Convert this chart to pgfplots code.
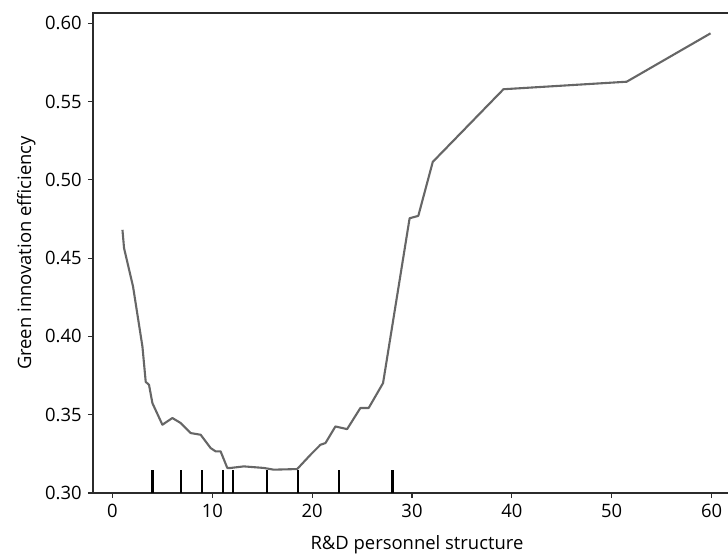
\documentclass[border=0pt]{standalone}
\usepackage{fontspec}
\setmainfont{Open Sans}
\usepackage{pgfplots}
\pgfplotsset{compat=1.18}
\definecolor{pdpline}{HTML}{666666}
\definecolor{spine}{HTML}{2B2B2B}
\begin{document}
\fontsize{18.5}{22}\selectfont
\begin{tikzpicture}
\begin{axis}[
	name=ax,
	scale only axis,
	width=648bp, height=480bp,
	xmin=-1.95, xmax=62.95,
	ymin=0.30, ymax=0.6066,
	xtick={0,10,20,30,40,50,60},
	ytick={0.30,0.35,0.40,0.45,0.50,0.55,0.60},
	yticklabel style={/pgf/number format/.cd,fixed,fixed zerofill,precision=2},
	/pgf/number format/assume math mode=true,
	tick pos=left,
	tick align=outside,
	major tick length=5bp,
	axis line style={line width=1.3bp, spine},
	every tick/.style={line width=1.1bp, spine},
	xlabel={R\&D personnel structure},
	ylabel={Green innovation efficiency},
	xlabel style={yshift=-5bp},
	ylabel style={yshift=-3bp},
	clip=true,
]
% rug of deciles
\addplot[ycomb, black, line width=2.2bp, mark=none] coordinates {
	(4.0,0.315) (6.85,0.315) (8.95,0.315) (11.05,0.315) (12.05,0.315)
	(15.45,0.315) (18.6,0.315) (22.65,0.315) (28.05,0.315)};
% partial dependence curve
\addplot[pdpline, line width=2.1bp, mark=none, line join=round] coordinates {
	(1.00,0.4681) (1.16,0.4564) (2.06,0.4319) (3.00,0.3936) (3.33,0.3710)
	(3.66,0.3691) (4.00,0.3574) (5.00,0.3436) (6.00,0.3479) (6.83,0.3447)
	(7.83,0.3383) (8.83,0.3372) (9.83,0.3287) (10.33,0.3266) (10.83,0.3266)
	(11.50,0.3160) (11.83,0.3160) (13.16,0.3170) (15.16,0.3160) (16.16,0.3149)
	(18.50,0.3153) (19.83,0.3244) (20.83,0.3308) (21.33,0.3319) (22.33,0.3425)
	(23.50,0.3408) (24.83,0.3543) (25.66,0.3543) (27.10,0.3702) (29.76,0.4755)
	(30.63,0.4770) (32.08,0.5115) (39.16,0.5579) (51.50,0.5627) (59.90,0.5936)};
\end{axis}
\pgfresetboundingbox
\path[use as bounding box] ([shift={(-93bp,-61bp)}]ax.south west) rectangle ([shift={(635bp,493bp)}]ax.south west);
\end{tikzpicture}
\end{document}
